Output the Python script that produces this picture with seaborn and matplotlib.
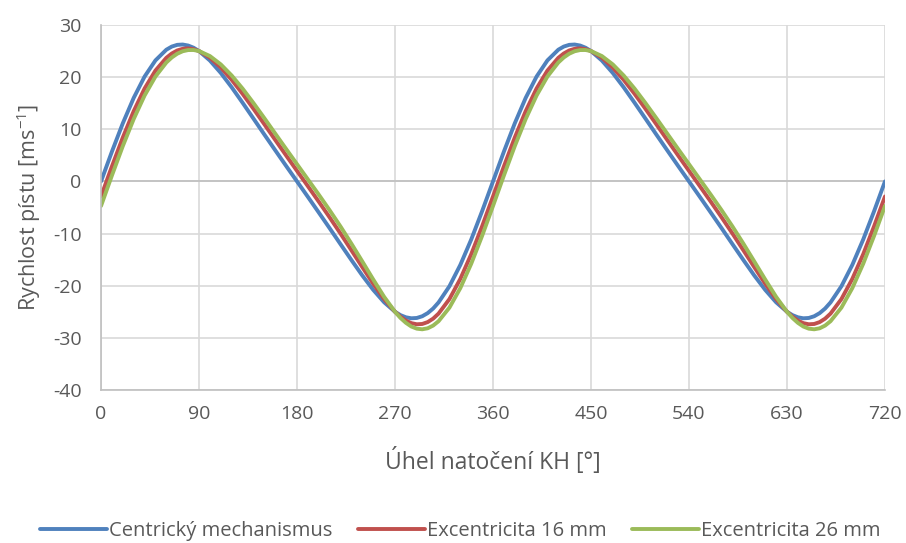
import numpy as np
import pandas as pd
import matplotlib
matplotlib.use("Agg")
import matplotlib.pyplot as plt
import seaborn as sns

# crank angle samples for one revolution (deg), denser around the extremes
angle_cycle = [
    0, 10, 20, 30, 40, 50, 60,
    65, 70, 75, 80, 85,
    90, 100, 110, 120, 130, 140, 150, 160, 170, 180,
    190, 200, 210, 220, 230, 240, 250, 260, 270,
    275, 280, 285, 290, 295, 300, 305,
    310, 320, 330, 340, 350,
]

# piston velocity [m/s], one revolution each
centric_cycle = [
    0.0, 5.71, 11.14, 16.01, 20.10, 23.21, 25.26,
    25.86, 26.19, 26.25, 26.06, 25.64,
    25.0, 23.18, 20.80, 18.05, 15.09, 12.05, 8.99, 5.97, 2.97, 0.0,
    -2.97, -5.97, -8.99, -12.05, -15.09, -18.05, -20.80, -23.18, -25.0,
    -25.64, -26.06, -26.25, -26.19, -25.86, -25.26, -24.38,
    -23.21, -20.10, -16.01, -11.14, -5.71,
]
exc16_cycle = [
    -2.89, 2.88, 8.42, 13.47, 17.81, 21.26, 23.70,
    24.53, 25.11, 25.43, 25.51, 25.36,
    25.0, 23.73, 21.84, 19.48, 16.80, 13.93, 10.96, 7.96, 4.98, 2.02,
    -0.92, -3.89, -6.91, -10.02, -13.22, -16.45, -19.62, -22.56, -25.0,
    -25.95, -26.69, -27.18, -27.40, -27.34, -26.98, -26.32,
    -25.35, -22.56, -18.69, -13.96, -8.60,
]
exc26_cycle = [
    -4.71, 1.13, 6.77, 11.96, 16.47, 20.12, 22.81,
    23.77, 24.49, 24.96, 25.19, 25.20,
    25.0, 24.04, 22.44, 20.31, 17.80, 15.03, 12.13, 9.17, 6.22, 3.30,
    0.38, -2.54, -5.54, -8.66, -11.95, -15.36, -18.81, -22.13, -25.0,
    -26.18, -27.12, -27.83, -28.24, -28.36, -28.17, -27.65,
    -26.81, -24.20, -20.46, -15.79, -10.44,
]

series_names = ["Centrický mechanismus", "Excentricita 16 mm", "Excentricita 26 mm"]
colors = ["#4F81BD", "#C0504D", "#9BBB59"]

# two revolutions (0..720 deg), the second one repeats the first
angles = angle_cycle + [a + 360 for a in angle_cycle] + [720]
rows = []
for name, cyc in zip(series_names, [centric_cycle, exc16_cycle, exc26_cycle]):
    vals = cyc + cyc + [cyc[0]]
    for a, v in zip(angles, vals):
        rows.append({"uhel": a, "rychlost": v, "serie": name})
df = pd.DataFrame(rows)

sns.set_theme(style="whitegrid")
plt.rcParams["font.family"] = ["Open Sans", "DejaVu Sans"]
plt.rcParams["mathtext.default"] = "regular"
plt.rcParams["axes.unicode_minus"] = False

fig = plt.figure(figsize=(9.06, 5.43), dpi=100)
ax = fig.add_axes([0.1115, 0.2818, 0.8653, 0.6722])

sns.lineplot(
    data=df, x="uhel", y="rychlost", hue="serie", hue_order=series_names,
    palette=colors, linewidth=2.8, ax=ax, legend=True, sort=False,
    solid_joinstyle="round", solid_capstyle="round",
)

ax.set_xlim(0, 720)
ax.set_ylim(-40, 30)
ax.set_xticks(range(0, 721, 90))
ax.set_yticks(range(-40, 31, 10))
ax.grid(True, color="#d9d9d9", linewidth=1.2)
ax.axhline(0, color="#bfbfbf", linewidth=1.2, zorder=1)
for side in ["top", "right"]:
    ax.spines[side].set_visible(False)
for side in ["left", "bottom"]:
    ax.spines[side].set_color("#bfbfbf")
    ax.spines[side].set_linewidth(1.2)

ax.tick_params(axis="both", length=0, labelsize=14, labelcolor="#595959")
ax.tick_params(axis="y", pad=14)
ax.tick_params(axis="x", pad=11)

ax.set_xlabel("Úhel natočení KH [°]", fontsize=16.5, color="#595959", labelpad=18)
ax.set_ylabel("Rychlost pístu [ms$^{-1}$]", fontsize=15.5, color="#595959", labelpad=7)

handles, labels = ax.get_legend_handles_labels()
ax.get_legend().remove()
fig.legend(
    handles, labels, loc="center", bbox_to_anchor=(0.508, 0.022), ncol=3,
    frameon=False, fontsize=14.5, handlelength=3.3, handletextpad=0.1,
    columnspacing=1.3, labelcolor="#595959",
)

fig.savefig("out.png", dpi=100)
